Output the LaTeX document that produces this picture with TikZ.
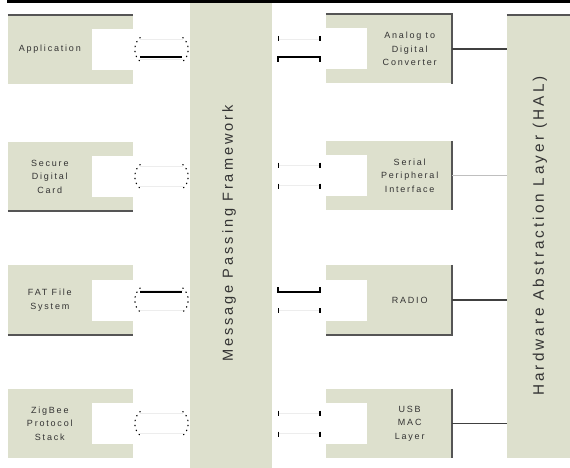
\documentclass[tikz,border=0pt]{standalone}
\usepackage{fontspec}
\newfontfamily\diagfont[LetterSpace=20]{Liberation Sans}
\usetikzlibrary{positioning}
\usetikzlibrary{calc}
\definecolor{panelfill}{RGB}{221,224,205}
\definecolor{edgegray}{RGB}{85,85,85}
\tikzset{panel/.style={fill=panelfill, minimum width=125pt, minimum height=69pt, inner sep=0pt}}
\tikzset{cut/.style={fill=white, minimum width=41pt, minimum height=41pt, inner sep=0pt}}
\tikzset{lbl/.style={align=center, text=black!80, font=\diagfont\fontsize{9}{13.5}\selectfont, inner sep=0pt}}
\tikzset{layer/.style={fill=panelfill, inner sep=0pt}}
\tikzset{big/.style={rotate=90, text=black!80, inner sep=0pt}}
\tikzset{rim/.style={draw=edgegray, line width=1.6pt}}
\tikzset{wire/.style={draw=black!75, line width=1.2pt}}
\tikzset{faint/.style={draw=black!7, line width=0.6pt}}
\tikzset{bond/.style={line width=2pt}}
\tikzset{dots/.style={line width=1.2pt, dash pattern=on 0.6pt off 4.5pt, line cap=round}}
\tikzset{tick/.style={line width=1.4pt}}

\begin{document}
\begin{tikzpicture}[x=1pt,y=-1pt]
\useasboundingbox (0,0) rectangle (570,468);
\fill (7,0) rectangle (570,3);

% middle and HAL columns
\node[layer, minimum width=82pt, minimum height=465pt] (mpf) at (231,235.5) {};
\node[big, font=\diagfont\fontsize{14.6}{16}\selectfont] at (229,233.5) {Message Passing Framework};
\node[layer, minimum width=63pt, minimum height=443pt] (hal) at (538.5,236.5) {};
\node[big, font=\diagfont\fontsize{15.3}{17}\selectfont] at (540,236) {Hardware Abstraction Layer (HAL)};
\draw[rim] (hal.north west) -- (hal.north east);

% left column
\node[panel] (app) at (70.5,49.5) {};
\node[cut, anchor=east] (appcut) at (app.east) {};
\node[lbl] at ($(app.west)!0.5!(appcut.west)$) {Application};
\node[panel] (sdc) at (70.5,176.5) {};
\node[cut, anchor=east] (sdccut) at (sdc.east) {};
\node[lbl] at ($(sdc.west)!0.5!(sdccut.west)$) {Secure\\Digital\\Card};
\node[panel, minimum height=70pt] (fat) at (70.5,300) {};
\node[cut, anchor=east] (fatcut) at (fat.east) {};
\node[lbl] at ($(fat.west)!0.5!(fatcut.west)$) {FAT File\\System};
\node[panel] (zig) at (70.5,423.5) {};
\node[cut, anchor=east] (zigcut) at (zig.east) {};
\node[lbl] at ($(zig.west)!0.5!(zigcut.west)$) {ZigBee\\Protocol\\Stack};

\draw[rim] (app.north west) -- (app.north east);
\draw[rim] (sdc.south west) -- (sdc.south east);
\draw[rim] (fat.south west) -- (fat.south east);

% right column
\node[panel, minimum width=126pt] (adc) at (389,49) {};
\node[cut, anchor=west] (adccut) at (adc.west) {};
\node[lbl] at ($(adccut.east)!0.5!(adc.east)$) {Analog to\\Digital\\Converter};
\node[panel, minimum width=126pt] (spi) at (389,175.5) {};
\node[cut, anchor=west] (spicut) at (spi.west) {};
\node[lbl] at ($(spicut.east)!0.5!(spi.east)$) {Serial\\Peripheral\\Interface};
\node[panel, minimum width=126pt, minimum height=70pt] (radio) at (389,300) {};
\node[cut, anchor=west] (radiocut) at (radio.west) {};
\node[lbl] at ($(radiocut.east)!0.5!(radio.east)$) {RADIO};
\node[panel, minimum width=126pt] (usb) at (389,423.5) {};
\node[cut, anchor=west] (usbcut) at (usb.west) {};
\node[lbl] at ($(usbcut.east)!0.5!(usb.east)$) {USB\\MAC\\Layer};

\draw[rim] (adc.north west) -- (adc.north east) -- (adc.south east);
\draw[rim] (spi.north east) -- (spi.south east);
\draw[rim] (radio.north east) -- (radio.south east) -- (radio.south west);
\draw[rim] (usb.north east) -- (usb.south east);

% into the HAL
\draw[wire] (adc.east) -- (adc.east -| hal.west);
\draw[faint, draw=black!25] (spi.east) -- (spi.east -| hal.west);
\draw[wire] (radio.east) -- (radio.east -| hal.west);
\draw[wire] (usb.east) -- (usb.east -| hal.west);

% left links
\draw[faint] ($(appcut.east)+(7,-10)$) -- ($(appcut.east -| mpf.west)+(-7,-10)$);
\draw[faint] ($(appcut.east)+(7,10)$) -- ($(appcut.east -| mpf.west)+(-7,10)$);
\draw[dots] ($(appcut.east)+(7,-12)$) to[bend right=50] ($(appcut.east)+(7,12)$);
\draw[dots] ($(appcut.east -| mpf.west)+(-7,-12)$) to[bend left=50] ($(appcut.east -| mpf.west)+(-7,12)$);
\draw[bond] ($(appcut.east)+(7,7.5)$) -- ($(appcut.east -| mpf.west)+(-8,7.5)$);

\draw[faint] ($(sdccut.east)+(7,-10)$) -- ($(sdccut.east -| mpf.west)+(-7,-10)$);
\draw[faint] ($(sdccut.east)+(7,10)$) -- ($(sdccut.east -| mpf.west)+(-7,10)$);
\draw[dots] ($(sdccut.east)+(7,-12)$) to[bend right=50] ($(sdccut.east)+(7,12)$);
\draw[dots] ($(sdccut.east -| mpf.west)+(-7,-12)$) to[bend left=50] ($(sdccut.east -| mpf.west)+(-7,12)$);

\draw[faint] ($(fatcut.east)+(7,-10)$) -- ($(fatcut.east -| mpf.west)+(-7,-10)$);
\draw[faint] ($(fatcut.east)+(7,10)$) -- ($(fatcut.east -| mpf.west)+(-7,10)$);
\draw[dots] ($(fatcut.east)+(7,-12)$) to[bend right=50] ($(fatcut.east)+(7,12)$);
\draw[dots] ($(fatcut.east -| mpf.west)+(-7,-12)$) to[bend left=50] ($(fatcut.east -| mpf.west)+(-7,12)$);
\draw[bond] ($(fatcut.east)+(7,-8)$) -- ($(fatcut.east -| mpf.west)+(-8,-8)$);

\draw[faint] ($(zigcut.east)+(7,-10)$) -- ($(zigcut.east -| mpf.west)+(-7,-10)$);
\draw[faint] ($(zigcut.east)+(7,10)$) -- ($(zigcut.east -| mpf.west)+(-7,10)$);
\draw[dots] ($(zigcut.east)+(7,-12)$) to[bend right=50] ($(zigcut.east)+(7,12)$);
\draw[dots] ($(zigcut.east -| mpf.west)+(-7,-12)$) to[bend left=50] ($(zigcut.east -| mpf.west)+(-7,12)$);

% right links
\draw[faint] ($(adccut.west -| mpf.east)+(6,-10)$) -- ($(adccut.west)+(-6,-10)$);
\draw[tick] ($(adccut.west -| mpf.east)+(6,-13)$) -- ++(0,5);
\draw[tick] ($(adccut.west)+(-6,-13)$) -- ++(0,5);
\draw[bond] ($(adccut.west -| mpf.east)+(6,13)$) |- ($(adccut.west)+(-6,8)$) -- ++(0,5);

\draw[faint] ($(spicut.west -| mpf.east)+(6,-10)$) -- ($(spicut.west)+(-6,-10)$);
\draw[faint] ($(spicut.west -| mpf.east)+(6,10)$) -- ($(spicut.west)+(-6,10)$);
\draw[tick] ($(spicut.west -| mpf.east)+(6,-13)$) -- ++(0,5);
\draw[tick] ($(spicut.west)+(-6,-13)$) -- ++(0,5);
\draw[tick] ($(spicut.west -| mpf.east)+(6,8)$) -- ++(0,5);
\draw[tick] ($(spicut.west)+(-6,8)$) -- ++(0,5);

\draw[faint] ($(radiocut.west -| mpf.east)+(6,10)$) -- ($(radiocut.west)+(-6,10)$);
\draw[bond] ($(radiocut.west -| mpf.east)+(6,-13)$) |- ($(radiocut.west)+(-6,-8)$) -- ++(0,-5);
\draw[tick] ($(radiocut.west -| mpf.east)+(6,8)$) -- ++(0,5);
\draw[tick] ($(radiocut.west)+(-6,8)$) -- ++(0,5);

\draw[faint] ($(usbcut.west -| mpf.east)+(6,-10)$) -- ($(usbcut.west)+(-6,-10)$);
\draw[faint] ($(usbcut.west -| mpf.east)+(6,10)$) -- ($(usbcut.west)+(-6,10)$);
\draw[tick] ($(usbcut.west -| mpf.east)+(6,-13)$) -- ++(0,5);
\draw[tick] ($(usbcut.west)+(-6,-13)$) -- ++(0,5);
\draw[tick] ($(usbcut.west -| mpf.east)+(6,8)$) -- ++(0,5);
\draw[tick] ($(usbcut.west)+(-6,8)$) -- ++(0,5);
\end{tikzpicture}
\end{document}
